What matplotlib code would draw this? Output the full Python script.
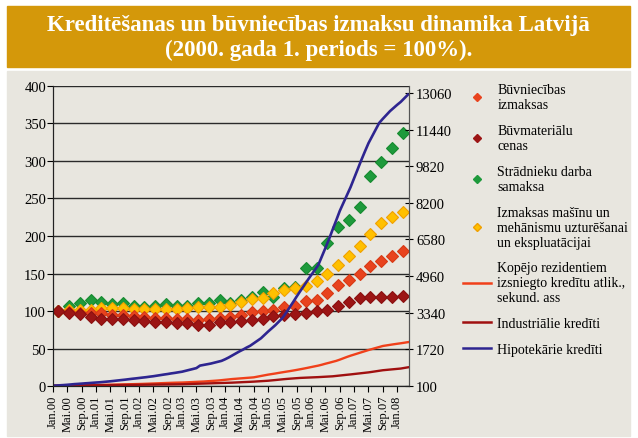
import matplotlib
matplotlib.use("Agg")
import matplotlib.pyplot as plt
from matplotlib.patches import Rectangle
from matplotlib.lines import Line2D

plt.rcParams['font.family'] = ['Liberation Serif', 'DejaVu Serif']

# ceturkšņu dati (kreisā ass, 2000. gada 1. periods = 100)
buvniecibas = [100, 99.5, 98, 98, 97, 95.5, 95.5, 94, 92, 91, 91, 90, 89, 88.5, 89, 91.5,
               92.5, 95, 98.5, 100, 102, 105, 106.5, 113, 115.5, 124, 135, 141, 150, 160.5,
               166.5, 173, 180.5]
buvmaterialu = [100, 98, 96.5, 92.5, 90, 89.5, 89, 88.5, 86.5, 85.5, 85, 84.5, 84, 82, 82, 85,
                85, 86.5, 88.5, 89, 93, 95, 96.5, 97.5, 100, 102, 107.5, 112, 117, 118.5,
                118.5, 118.5, 120.5]
stradnieku = [100, 106.5, 111, 115, 112, 110, 111, 106.5, 105, 107.5, 110, 107.5, 106.5, 111,
              111, 115.5, 111, 115, 118.5, 125, 119, 131, 132.5, 157, 157, 191, 212, 221, 239,
              280, 298, 317, 337]
masinu = [100, 101, 102, 102, 104, 104, 104, 103.5, 102.5, 102.5, 102.5, 103.5, 104.5, 105,
          105, 105, 108.5, 112, 116.5, 118, 124, 128, 131, 134, 140.5, 149, 162, 174, 187,
          203, 217, 225, 231.5]

# mēneša dati (sekundārā ass)
kopejie = [100, 102, 105, 107, 110, 112, 115, 117, 120, 122, 125, 127, 130, 133, 137, 140,
           144, 148, 152, 156, 160, 164, 167, 171, 175, 180, 186, 192, 198, 204, 210, 216,
           222, 228, 233, 237, 240, 247, 255, 262, 270, 278, 285, 296, 307, 318, 330, 345,
           362, 378, 395, 407, 420, 432, 445, 457, 470, 500, 530, 560, 590, 615, 640, 668,
           694, 720, 745, 772, 800, 830, 860, 892, 925, 958, 990, 1030, 1075, 1115, 1158,
           1200, 1255, 1315, 1375, 1430, 1480, 1530, 1580, 1630, 1680, 1725, 1770, 1815,
           1860, 1885, 1910, 1935, 1958, 1980, 2005, 2030]
industrialie = [100, 101, 103, 104, 106, 107, 109, 110, 112, 113, 115, 116, 118, 120, 122, 124,
                126, 127, 129, 131, 133, 134, 136, 138, 140, 142, 144, 146, 148, 150, 152, 154,
                156, 158, 160, 163, 165, 170, 175, 180, 185, 190, 195, 200, 205, 210, 215, 220,
                225, 230, 235, 243, 250, 258, 265, 272, 280, 290, 300, 310, 320, 335, 350, 366,
                382, 397, 410, 422, 434, 445, 452, 459, 466, 473, 480, 489, 498, 507, 516, 533,
                550, 567, 584, 600, 618, 636, 654, 672, 690, 713, 737, 761, 785, 800, 815, 830,
                845, 860, 887, 914]
hipotekarie = [100, 108, 118, 128, 140, 155, 170, 180, 192, 205, 215, 228, 240, 250, 265, 280,
               295, 312, 330, 348, 365, 385, 405, 422, 441, 460, 478, 500, 520, 545, 570, 595,
               618, 645, 668, 695, 720, 760, 800, 839, 880, 990, 1020, 1050, 1080, 1120, 1160,
               1200, 1270, 1350, 1440, 1530, 1620, 1700, 1790, 1870, 1980, 2090, 2200, 2350,
               2500, 2640, 2780, 2940, 3100, 3330, 3570, 3810, 4060, 4300, 4530, 4770, 5000,
               5220, 5450, 5830, 6210, 6600, 7020, 7430, 7850, 8200, 8550, 8900, 9300, 9700,
               10100, 10480, 10850, 11150, 11450, 11750, 11930, 12100, 12270, 12410, 12550,
               12680, 12840, 13000]

menesi = ['Jan', 'Mai', 'Sep']
x_labels = [f"{menesi[i % 3]}.{(i // 3):02d}" for i in range(25)]
right_ticks = [100, 1720, 3340, 4960, 6580, 8200, 9820, 11440, 13060]

bg = '#e8e6df'
fig = plt.figure(figsize=(6.38, 4.39), dpi=100)
fig.patches.append(Rectangle((7 / 638, 1 - 68 / 439), 623 / 638, 61 / 439,
                             transform=fig.transFigure, color='#d4980a', zorder=-10))
fig.patches.append(Rectangle((7 / 638, 1 - 437 / 439), 623 / 638, 365 / 439,
                             transform=fig.transFigure, color=bg, zorder=-10))
fig.text(0.499, 1 - 26 / 439, "Kreditēšanas un būvniecības izmaksu dinamika Latvijā",
         ha='center', va='center', color='white', fontsize=16.5, fontweight='bold')
fig.text(0.499, 1 - 50 / 439, "(2000. gada 1. periods = 100%).",
         ha='center', va='center', color='white', fontsize=16.5, fontweight='bold')

ax = fig.add_axes([53 / 638, 1 - 387.3 / 439, 356 / 638, 300.6 / 439])
ax.set_facecolor(bg)
ax2 = ax.twinx()

xq = [1.5 + 3 * k for k in range(len(buvniecibas))]
xm = list(range(len(kopejie)))

mk = dict(marker='D', linestyle='none', markersize=6.3, markeredgewidth=0.8)
ax.plot(xq, stradnieku, color='#1e9a3c', mec='#178a30', **mk)
ax.plot(xq, masinu, color='#ffc000', mec='#f0a000', **mk)
ax.plot(xq, buvniecibas, color='#e8431e', mec='#d83a15', **mk)
ax.plot(xq, buvmaterialu, color='#9c1515', mec='#8a1010', **mk)

ax2.plot(xm, kopejie, color='#f0401a', lw=1.7)
ax2.plot(xm, industrialie, color='#a01010', lw=1.7)
ax2.plot(xm, hipotekarie, color='#2e2590', lw=1.9)

ax.set_xlim(0, 99.3)
ax.set_ylim(0, 400)
ax.set_yticks(range(0, 401, 50))
ax.yaxis.grid(True, color='#2a2a2a', lw=1)
ax.set_axisbelow(True)
ax.set_xticks(range(0, 97, 4))
ax.set_xticklabels(x_labels, rotation=90, fontsize=9)
ax.tick_params(axis='y', labelsize=10.5, length=4, pad=1)
ax.tick_params(axis='x', length=4, pad=2)

ax2.set_ylim(73, 13397)
ax2.set_yticks(right_ticks)
ax2.tick_params(axis='y', labelsize=10.5, length=6, direction='inout', pad=2)

for a in (ax, ax2):
    a.spines['top'].set_visible(False)
    a.spines['left'].set_color('#222222')
    a.spines['bottom'].set_color('#222222')
    a.spines['right'].set_color('#555555')

handles = [
    Line2D([], [], marker='D', ls='none', color='#e8431e', markersize=4.5),
    Line2D([], [], marker='D', ls='none', color='#9c1515', markersize=4.5),
    Line2D([], [], marker='D', ls='none', color='#1e9a3c', markersize=4.5),
    Line2D([], [], marker='D', ls='none', color='#ffc000', mec='#f0a000', markersize=4.5),
    Line2D([], [], color='#f0401a', lw=1.8),
    Line2D([], [], color='#a01010', lw=1.8),
    Line2D([], [], color='#2e2590', lw=1.8),
]
labels = [
    "Būvniecības\nizmaksas",
    "Būvmateriālu\ncenas",
    "Strādnieku darba\nsamaksa",
    "Izmaksas mašīnu un\nmehānismu uzturēšanai\nun ekspluatācijai",
    "Kopējo rezidentiem\nizsniegto kredītu atlik.,\nsekund. ass",
    "Industriālie kredīti",
    "Hipotekārie kredīti",
]
fig.legend(handles, labels, loc='upper left', bbox_to_anchor=(455 / 638, 1 - 76 / 439),
           frameon=False, fontsize=10, handlelength=2.0, handletextpad=0.45,
           labelspacing=0.92, borderaxespad=0.2)

fig.savefig('out.png', dpi=100)
